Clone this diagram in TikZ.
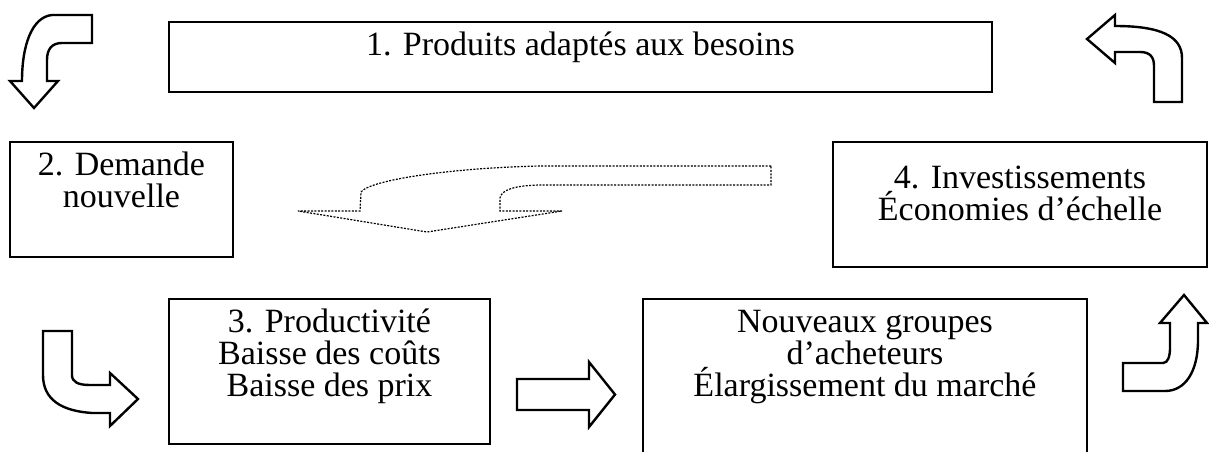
\documentclass[tikz,border=0pt]{standalone}
\usepackage{fontspec}
\setmainfont{Liberation Serif}
\usetikzlibrary{calc}
\newcommand{\stackedlines}[2]{{\renewcommand{\arraystretch}{1}\setlength{\baselineskip}{#1}\begin{tabular}[t]{@{}c@{}}#2\end{tabular}}}
\begin{document}
\begin{tikzpicture}[x=1pt,y=-1pt,
  box/.style={draw, line width=2.4pt, inner sep=0pt, rectangle},
  txt/.style={font=\fontsize{34}{32}\selectfont, inner sep=0pt, anchor=base},
  blockarrow/.style={draw, line width=2.4pt, fill=white, line join=miter},
  dasharrow/.style={draw, line width=1.2pt, dash pattern=on 2pt off 1.4pt}]
\path[use as bounding box] (0,0) rectangle (1209,452);
\clip (0,0) rectangle (1209,452);
% boxes
\node[box, minimum width=823pt, minimum height=70pt]  (b1) at (580.5,57) {};
\node[box, minimum width=223pt, minimum height=115pt] (b2) at (121.5,199.5) {};
\node[box, minimum width=321pt, minimum height=145pt] (b3) at (329.5,371.5) {};
\node[box, minimum width=374pt, minimum height=125pt] (b4) at (1020,204.5) {};
\node[box, minimum width=444pt, minimum height=181pt] (b5) at (865,389.5) {};
% texts
\node[txt] (t1) at ($(b1.north)+(0,35)$) {1. Produits adaptés aux besoins};
\node[txt] (t2) at ($(b2.north)+(0,35)$) {\stackedlines{32pt}{\smash{2. Demande}\\\smash{nouvelle}}};
\node[txt] (t3) at ($(b3.north)+(0,35)$) {\stackedlines{29pt}{\smash{3. Productivité}\\\smash{Baisse des coûts}\\\smash{Baisse des prix}}};
\node[txt] (t4) at ($(b4.north)+(0,48)$) {\stackedlines{32pt}{\smash{4. Investissements}\\\smash{Économies d’échelle}}};
\node[txt] (t5) at ($(b5.north)+(0,35)$) {\stackedlines{29.5pt}{\smash{Nouveaux groupes}\\\smash{d’acheteurs}\\\smash{Élargissement du marché}}};
% block arrows
\path[blockarrow] (92,15) -- (52,15) .. controls (32,17) and (22,45) .. (22,81) -- (10,81) -- (34,108) -- (58,81) -- (47,81) -- (47,60) .. controls (47,49) and (52,43) .. (62,43) -- (92,43) -- cycle;
\path[blockarrow] (1182,102) -- (1182,58) .. controls (1182,36) and (1160,26) .. (1115,26) -- (1115,15) -- (1087,39) -- (1115,63) -- (1115,52) -- (1140,52) .. controls (1150,52) and (1154,57) .. (1154,66) -- (1154,102) -- cycle;
\path[blockarrow] (43,331) -- (72,331) -- (72,375) .. controls (72,382) and (78,385) .. (90,385) -- (110,385) -- (110,373) -- (138,399) -- (110,426) -- (110,413) -- (92,413) .. controls (62,411) and (43,400) .. (43,375) -- cycle;
\path[blockarrow] (1123,363) -- (1163,363) .. controls (1168,363) and (1170,356) .. (1170,348) -- (1170,323) -- (1160,323) -- (1184,295) -- (1207,323) -- (1198,323) -- (1198,340) .. controls (1198,372) and (1185,391) .. (1165,391) -- (1123,391) -- cycle;
\path[blockarrow] (517,379) -- (589,379) -- (589,362) -- (615,394.5) -- (589,427) -- (589,410) -- (517,410) -- cycle;
% dashed arrow
\path[dasharrow] (771,166) -- (540,166) .. controls (450,168) and (370,180) .. (361,192) -- (360,211) -- (298,211) -- (427,232) -- (562,211) -- (500,211) -- (500,198) .. controls (501,190) and (515,185) .. (543,185) -- (771,185) -- cycle;
\end{tikzpicture}
\end{document}
